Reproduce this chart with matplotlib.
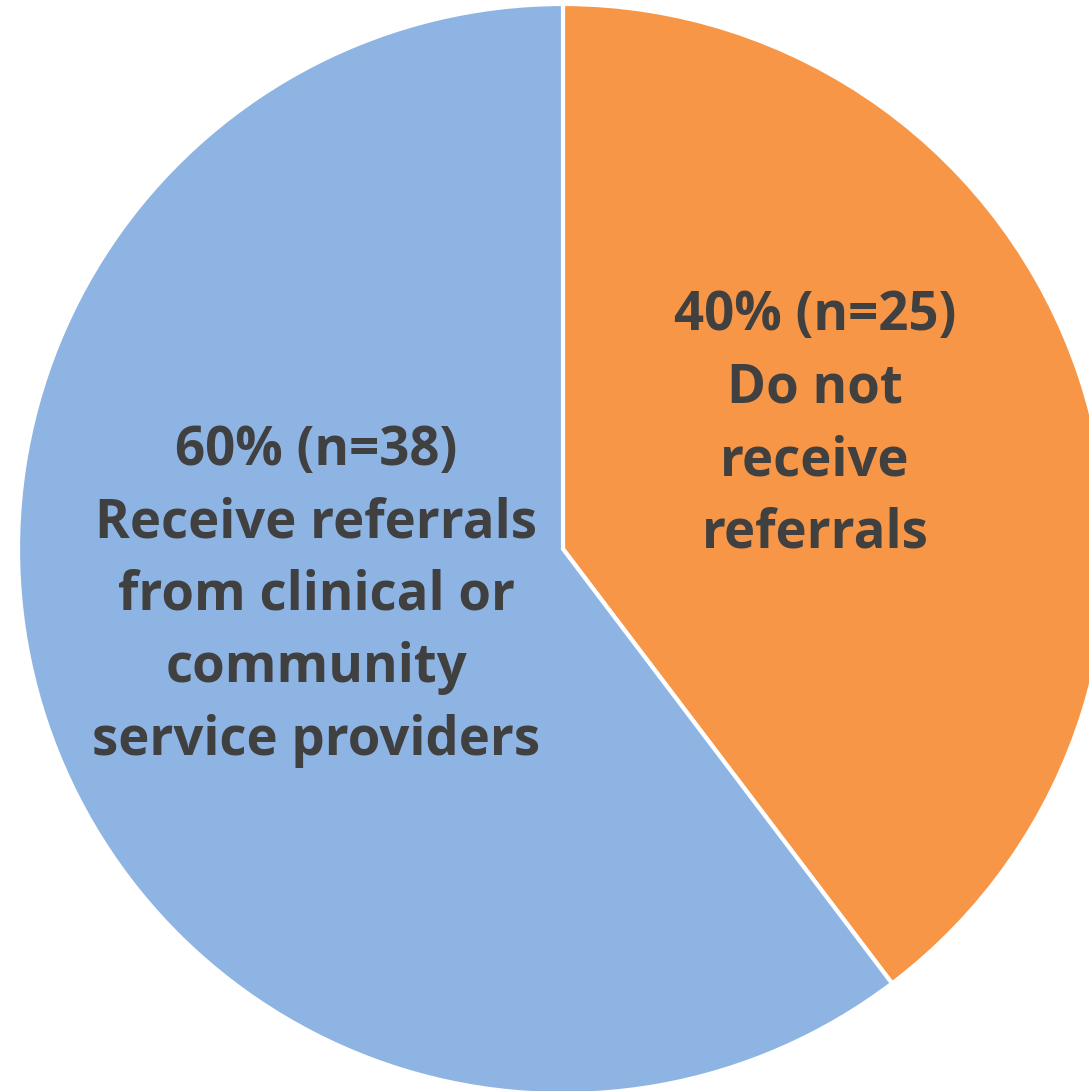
import matplotlib.pyplot as plt

# slice data (clockwise from 12 o'clock)
labels = ["Do not\nreceive\nreferrals",
          "Receive referrals\nfrom clinical or\ncommunity\nservice providers"]
counts = [25, 38]
percents = [40, 60]
colors = ["#F79646", "#8EB4E3"]

W, H = 1089, 1091
fig = plt.figure(figsize=(W / 100, H / 100), dpi=100)
ax = fig.add_axes([0, 0, 1, 1])

cx, cy, r = 563, H - 549, 545
ax.pie(counts, colors=colors, startangle=90, counterclock=False,
       center=(cx, cy), radius=r, frame=True,
       wedgeprops=dict(edgecolor="white", linewidth=3))
ax.set_xlim(0, W)
ax.set_ylim(0, H)
ax.set_aspect("equal")
ax.axis("off")

text_pos = [(815, H - 425), (316, H - 596)]
for (tx, ty), lab, n, p in zip(text_pos, labels, counts, percents):
    ax.text(tx, ty, f"{p}% (n={n})\n{lab}", ha="center", va="center",
            fontsize=38, fontweight="bold", color="#404040",
            family="Open Sans", linespacing=1.45)

fig.savefig("out.png", dpi=100)
